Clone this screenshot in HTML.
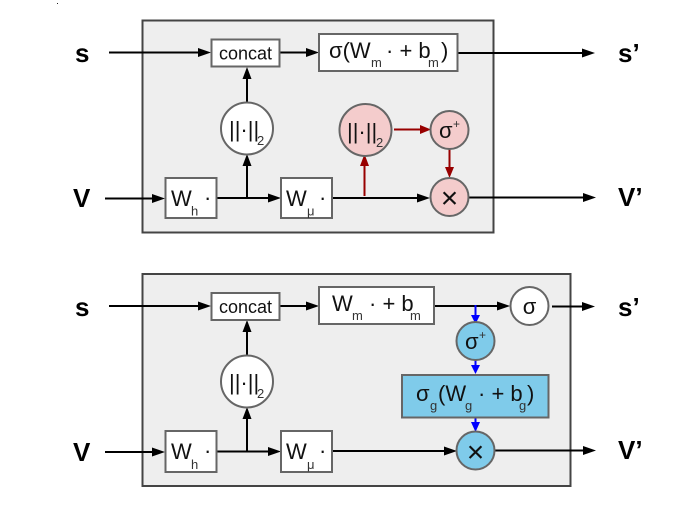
<!DOCTYPE html>
<html>
<head>
<meta charset="utf-8">
<style>
html,body{margin:0;padding:0;background:#fff;width:680px;height:506px;overflow:hidden}
svg{display:block}
text{font-family:"Liberation Sans",sans-serif;fill:#111}
.b{font-weight:bold;font-size:26px;fill:#000}
.t{font-size:18px}
.m{font-size:22px}
.sub{font-size:13px;fill:#333}
.box{stroke:#666;stroke-width:2;fill:#fff}
.l{stroke:#000;stroke-width:2;fill:none}
.r{stroke:#980000;stroke-width:2;fill:none}
.bl{stroke:#0000ff;stroke-width:2;fill:none}
.h{fill:#000}.hr{fill:#980000}.hb{fill:#0000ff}
.x{font-size:30px}
</style>
</head>
<body>
<svg width="680" height="506" viewBox="0 0 680 506" xmlns="http://www.w3.org/2000/svg">
<rect x="57" y="3" width="1" height="1" fill="#222"/>
<!-- TOP PANEL -->
<rect x="142.500" y="20.500" width="351" height="212" fill="#eeeeee" stroke="#444" stroke-width="2"/>
<text class="b" x="75" y="62">s</text>
<text class="b" x="73" y="207">V</text>
<text class="b" x="618" y="62">s’</text>
<text class="b" x="618" y="206">V’</text>

<path class="l" d="M109 52.500H200"/><path class="h" d="M198 48l13 4.500-13 4.500z"/>
<path class="l" d="M279 52.500H308"/><path class="h" d="M306 48l13 4.500-13 4.500z"/>
<path class="l" d="M458 53H584"/><path class="h" d="M582 48.500l13 4.500-13 4.500z"/>
<path class="l" d="M247 103V78"/><path class="h" d="M242.500 79l4.500-12 4.500 12z"/>
<path class="l" d="M105 198.500H155"/><path class="h" d="M152 194l13 4.500-13 4.500z"/>
<path class="l" d="M217 198H270"/><path class="h" d="M268 193.500l13 4.500-13 4.500z"/>
<path class="l" d="M247 198V165"/><path class="h" d="M242.500 166l4.500-12 4.500 12z"/>
<path class="l" d="M332 198H420"/><path class="h" d="M417 193.500l13 4.500-13 4.500z"/>
<path class="l" d="M468 197.500H585"/><path class="h" d="M583 193l13 4.500-13 4.500z"/>
<path class="r" d="M364.500 196V165"/><path class="hr" d="M360 166l4.500-12 4.500 12z"/>
<path class="r" d="M394 129.500H422"/><path class="hr" d="M420 125l11 4.500-11 4.500z"/>
<path class="r" d="M449.500 149V170"/><path class="hr" d="M445 167l4.500 11 4.500-11z"/>

<rect class="box" x="211.500" y="39.500" width="68" height="27"/>
<text class="t" x="245.500" y="59.500" text-anchor="middle">concat</text>
<rect class="box" x="319" y="34" width="138.500" height="37"/>
<text class="m" x="329" y="58">σ(W</text>
<text class="sub" x="371" y="67">m</text>
<text class="m" x="386" y="58">· + b</text>
<text class="sub" x="428" y="67">m</text>
<text class="m" x="441" y="58">)</text>
<circle cx="247" cy="128.500" r="26" fill="#fff" stroke="#666" stroke-width="2"/>
<text class="m" x="229" y="137">||·||</text>
<text class="sub" x="257" y="145">2</text>
<rect class="box" x="165.500" y="178" width="51" height="40"/>
<text class="m" x="171" y="206">W</text><text class="sub" x="191" y="215.500">h</text><text class="m" x="204" y="205">·</text>
<rect class="box" x="281" y="178" width="51" height="40"/>
<text class="m" x="286" y="206">W</text><text class="sub" x="307" y="215.500">μ</text><text class="m" x="319" y="205">·</text>
<circle cx="365.500" cy="130" r="26" fill="#f4cccc" stroke="#666" stroke-width="2"/>
<text class="m" x="347" y="139">||·||</text>
<text class="sub" x="376" y="147">2</text>
<circle cx="449.500" cy="130" r="19" fill="#f4cccc" stroke="#666" stroke-width="2"/>
<text class="m" x="439" y="138">σ</text><text class="sub" x="453" y="128" style="font-size:12px">+</text>
<circle cx="449.500" cy="197" r="19" fill="#f4cccc" stroke="#666" stroke-width="2"/>
<text class="x" x="449.500" y="208" text-anchor="middle">×</text>

<!-- BOTTOM PANEL -->
<rect x="142.500" y="274" width="428" height="212" fill="#eeeeee" stroke="#444" stroke-width="2"/>
<text class="b" x="75" y="316">s</text>
<text class="b" x="73" y="461">V</text>
<text class="b" x="618" y="316">s’</text>
<text class="b" x="618" y="459">V’</text>

<path class="l" d="M109 306H200"/><path class="h" d="M198 301.500l13 4.500-13 4.500z"/>
<path class="l" d="M279 306H308"/><path class="h" d="M306 301.500l13 4.500-13 4.500z"/>
<path class="l" d="M434 306H502"/><path class="h" d="M497 301.500l13 4.500-13 4.500z"/>
<path class="l" d="M552 306.500H584"/><path class="h" d="M582 302l13 4.500-13 4.500z"/>
<path class="l" d="M247 356V331"/><path class="h" d="M242.500 332l4.500-12 4.500 12z"/>
<path class="l" d="M105 452H155"/><path class="h" d="M152 447.500l13 4.500-13 4.500z"/>
<path class="l" d="M217 451.500H270"/><path class="h" d="M268 447l13 4.500-13 4.500z"/>
<path class="l" d="M247 451.500V418"/><path class="h" d="M242.500 419l4.500-12 4.500 12z"/>
<path class="l" d="M332 451H446"/><path class="h" d="M444 446.500l13 4.500-13 4.500z"/>
<path class="l" d="M495 450.500H585"/><path class="h" d="M583 446l13 4.500-13 4.500z"/>
<path class="bl" d="M475.500 305V317"/><path class="hb" d="M471 315l4.500 9 4.500-9z"/>
<path class="bl" d="M475.500 360V367"/><path class="hb" d="M471 365l4.500 9 4.500-9z"/>
<path class="bl" d="M475.500 418V424"/><path class="hb" d="M471 422l4.500 10 4.500-10z"/>

<rect class="box" x="211.500" y="293" width="68" height="27"/>
<text class="t" x="245.500" y="313" text-anchor="middle">concat</text>
<rect class="box" x="319" y="287" width="115" height="37"/>
<text class="m" x="332" y="311">W</text><text class="sub" x="352" y="320">m</text>
<text class="m" x="369" y="311">· + b</text><text class="sub" x="410" y="320">m</text>
<circle cx="247" cy="381.500" r="26" fill="#fff" stroke="#666" stroke-width="2"/>
<text class="m" x="229" y="390">||·||</text>
<text class="sub" x="257" y="398">2</text>
<rect class="box" x="165.500" y="431" width="51" height="41"/>
<text class="m" x="171" y="459">W</text><text class="sub" x="191" y="469">h</text><text class="m" x="204" y="458">·</text>
<rect class="box" x="281" y="431" width="51" height="41"/>
<text class="m" x="286" y="459">W</text><text class="sub" x="307" y="469">μ</text><text class="m" x="319" y="458">·</text>
<circle cx="529.500" cy="306" r="19" fill="#fff" stroke="#666" stroke-width="2"/>
<text class="m" x="529.500" y="314" text-anchor="middle">σ</text>
<circle cx="475.500" cy="341" r="19" fill="#7fcbea" stroke="#666" stroke-width="2"/>
<text class="m" x="465" y="349">σ</text><text class="sub" x="479" y="339" style="font-size:12px">+</text>
<rect x="402" y="375" width="146.500" height="42.500" fill="#7fcbea" stroke="#666" stroke-width="2"/>
<text class="m" x="416" y="401">σ</text><text class="sub" x="430" y="410">g</text>
<text class="m" x="438" y="401">(W</text><text class="sub" x="465" y="410">g</text>
<text class="m" x="478" y="401">· + b</text><text class="sub" x="519" y="410">g</text>
<text class="m" x="527" y="401">)</text>
<circle cx="475.500" cy="450.500" r="19" fill="#7fcbea" stroke="#666" stroke-width="2"/>
<text class="x" x="475.500" y="462" text-anchor="middle">×</text>
</svg>
</body>
</html>
